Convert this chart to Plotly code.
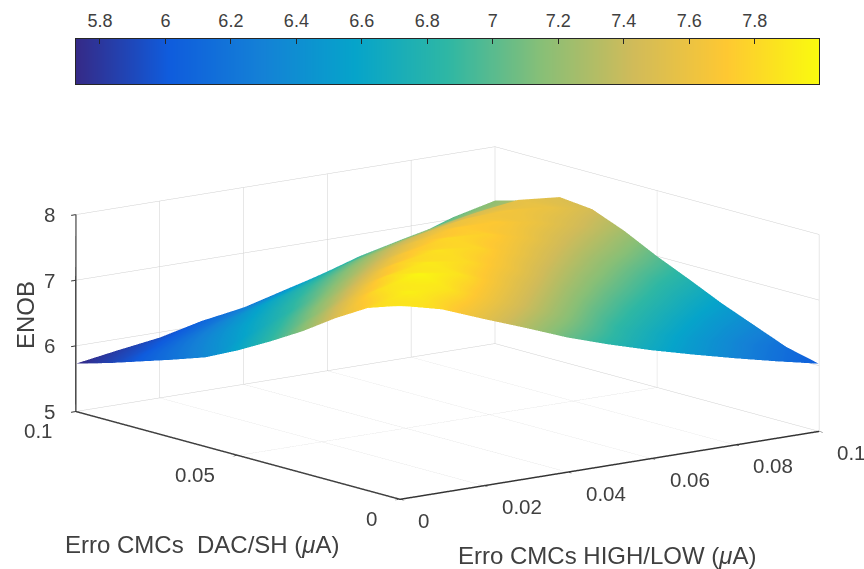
import plotly.graph_objects as go

x_vals = [0, 0.01, 0.02, 0.03, 0.04, 0.05, 0.06, 0.07, 0.08, 0.09, 0.1]
y_vals = [0, 0.01, 0.02, 0.03, 0.04, 0.05, 0.06, 0.07, 0.08, 0.09, 0.1]
enob = [
    [7.95, 7.79, 7.54, 7.30, 7.05, 6.84, 6.65, 6.48, 6.32, 6.17, 6.03],
    [7.78, 7.93, 7.85, 7.60, 7.35, 7.10, 6.85, 6.65, 6.47, 6.30, 6.15],
    [7.49, 7.82, 7.97, 7.85, 7.60, 7.35, 7.10, 6.88, 6.68, 6.50, 6.35],
    [7.16, 7.50, 7.80, 7.90, 7.80, 7.60, 7.35, 7.12, 6.92, 6.72, 6.55],
    [6.87, 7.15, 7.47, 7.75, 7.85, 7.78, 7.58, 7.36, 7.15, 6.95, 6.78],
    [6.60, 6.87, 7.15, 7.43, 7.68, 7.80, 7.75, 7.58, 7.38, 7.20, 7.00],
    [6.36, 6.60, 6.85, 7.13, 7.38, 7.60, 7.72, 7.70, 7.58, 7.42, 7.25],
    [6.19, 6.40, 6.62, 6.85, 7.10, 7.33, 7.50, 7.62, 7.64, 7.58, 7.45],
    [6.03, 6.20, 6.38, 6.60, 6.80, 7.02, 7.20, 7.33, 7.47, 7.56, 7.50],
    [5.87, 5.99, 6.14, 6.30, 6.48, 6.68, 6.88, 7.03, 7.17, 7.28, 7.32],
    [5.73, 5.83, 5.92, 6.07, 6.17, 6.34, 6.48, 6.67, 6.82, 7.03, 7.18],
]
parula = ["#352a87", "#0f5cdd", "#1481d6", "#06a4ca", "#2eb7a4",
          "#87bf77", "#d1bb59", "#fec832", "#f9fb0e"]
x_ticks = [0, 0.02, 0.04, 0.06, 0.08, 0.1]
y_ticks = [0, 0.05, 0.1]
z_ticks = [5, 6, 7, 8]
c_ticks = [5.8, 6, 6.2, 6.4, 6.6, 6.8, 7, 7.2, 7.4, 7.6, 7.8]
c_range = [5.727, 7.996]
ramp_levels = [5.727, 5.8, 5.9, 6.0, 6.1, 6.2, 6.3, 6.4, 6.5, 6.6, 6.7, 6.8, 6.9, 7.0,
               7.1, 7.2, 7.3, 7.4, 7.5, 7.6, 7.7, 7.8, 7.9, 7.996]

W, H = 864, 569
TXT = "#404040"
FONT = "Liberation Sans"
scale = [[i / (len(parula) - 1), c] for i, c in enumerate(parula)]

surface = go.Surface(
    x=x_vals, y=y_vals, z=enob, colorscale=scale, cmin=c_range[0], cmax=c_range[1], showscale=False,
    lighting=dict(ambient=1, diffuse=0, specular=0, roughness=1, fresnel=0),
    hoverinfo="skip",
)
ramp = go.Heatmap(
    x=ramp_levels, y=[0, 1], z=[ramp_levels, ramp_levels], zsmooth="best", colorscale=scale,
    zmin=c_range[0], zmax=c_range[1], showscale=False, hoverinfo="skip", xaxis="x", yaxis="y",
)

def axis(ticks, rng):
    return dict(
        title="", range=rng, tickmode="array", tickvals=ticks, showticklabels=False,
        showbackground=False, showgrid=True, gridcolor="#cfcfcf", gridwidth=1,
        showline=True, linecolor="#333333", linewidth=3, ticks="outside", ticklen=6, tickwidth=2,
        tickcolor="#333333", zeroline=False, showspikes=False,
    )

def tick_label(x, y, z, t, anchor, dx, dy):
    return dict(x=x, y=y, z=z, text=f"{t:g}", showarrow=False, xanchor=anchor, yanchor="middle",
                xshift=dx, yshift=dy, font=dict(family=FONT, size=20.5, color=TXT))

scene_labels = (
    [tick_label(t, 0, 5, t, "left", 16, -21) for t in x_ticks]
    + [tick_label(0, t, 5, t, "right", -21, -19.5) for t in y_ticks]
    + [tick_label(0, 0.1, t, t, "right", -19, 0) for t in z_ticks]
)

S = 2.154
fig = go.Figure([surface, ramp])
fig.update_layout(
    width=W, height=H, margin=dict(l=0, r=0, t=0, b=0), paper_bgcolor="white", plot_bgcolor="rgba(0,0,0,0)",
    font=dict(family=FONT, color=TXT),
    xaxis=dict(domain=[76 / W, 819 / W], range=c_range, side="top", anchor="y", tickmode="array",
               tickvals=c_ticks, ticks="inside", ticklen=5, tickcolor="#262626", showgrid=False, zeroline=False,
               showline=True, linecolor="#262626", mirror=True, ticklabelstandoff=4,
               tickfont=dict(size=18, color=TXT)),
    yaxis=dict(domain=[1 - 84 / H, 1 - 39 / H], range=[0, 1], showticklabels=False, ticks="", showgrid=False,
               zeroline=False, showline=True, linecolor="#262626", mirror=True),
    scene=dict(
        domain=dict(x=[0.036, 1], y=[0, 0.8647]),
        xaxis=axis(x_ticks, [0, 0.1]), yaxis=axis(y_ticks, [0, 0.1]), zaxis=axis(z_ticks, [5, 8]),
        aspectmode="manual", aspectratio=dict(x=S, y=S, z=0.38 * S),
        camera=dict(
            projection=dict(type="orthographic"),
            eye=dict(x=-0.5985 * 1.6, y=-0.7738 * 1.6, z=0.2096 * 1.6),
            up=dict(x=0, y=0, z=1), center=dict(x=0, y=0, z=0),
        ),
        annotations=scene_labels,
    ),
    annotations=[
        dict(text="Erro CMCs  DAC/SH (<i>μ</i>A)", x=202 / W, y=1 - 544 / H, xref="paper", yref="paper",
             xanchor="center", yanchor="middle", showarrow=False, font=dict(size=24, color=TXT)),
        dict(text="Erro CMCs HIGH/LOW (<i>μ</i>A)", x=607 / W, y=1 - 555 / H, xref="paper", yref="paper",
             xanchor="center", yanchor="middle", showarrow=False, font=dict(size=24, color=TXT)),
        dict(text="ENOB", x=25 / W, y=1 - 315 / H, xref="paper", yref="paper", textangle=-90,
             xanchor="center", yanchor="middle", showarrow=False, font=dict(size=24, color=TXT)),
    ],
)
fig.write_html("out.html", config=dict(displayModeBar=False), post_script="document.body.style.margin='0';")
